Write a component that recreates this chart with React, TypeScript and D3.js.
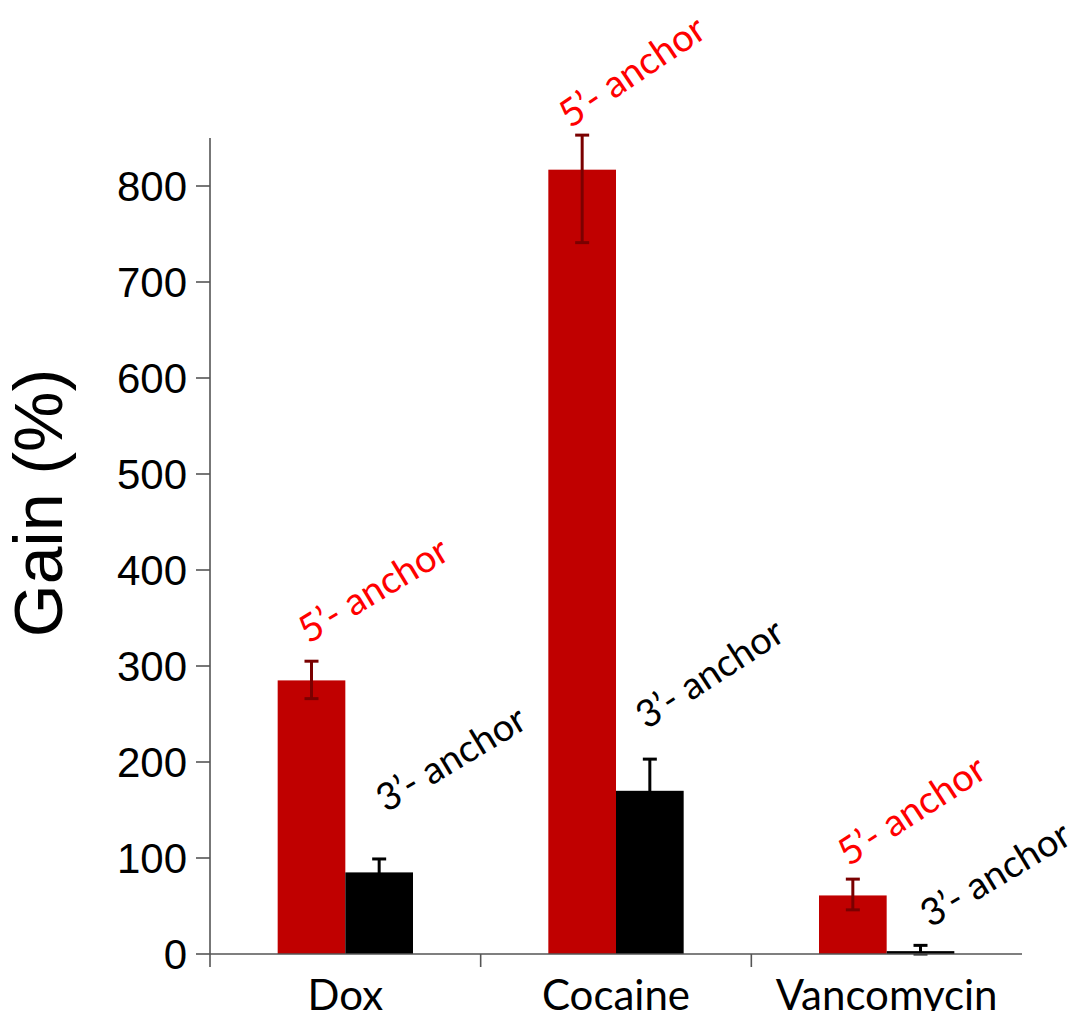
import * as d3 from 'd3';
import React, { useRef, useEffect } from 'react';

// values
const categories = ['Dox', 'Cocaine', 'Vancomycin'];
const seriesNames = ['5’- anchor', '3’- anchor'];
const gain5 = [285, 817, 61];
const err5Up = [20, 36, 17];
const err5Down = [19, 76, 15];
const gain3 = [85, 170, 3];
const err3Up = [14, 33, 6];
const err3Down = [14, 33, 3];
const yTicks = [0, 100, 200, 300, 400, 500, 600, 700, 800];

const W = 1077;
const H = 1019;

function GainChart() {
  const ref = useRef<SVGSVGElement>(null);

  useEffect(() => {
    const svg = d3.select(ref.current);
    svg.selectAll('*').remove();

    const left = 210, right = 1022, top = 138, base = 954;

    const x = d3.scaleBand().domain(categories).range([left, right]).padding(0);
    const bw = x.bandwidth();
    const x1 = d3.scaleBand().domain(seriesNames).range([bw * 0.25, bw * 0.75]).padding(0);
    const y = d3.scaleLinear().domain([0, 850]).range([base, top]);

    const fills = ['#c00000', '#000000'];
    const errColors = ['#7a0000', '#000000'];
    const textColors = ['#ff0000', '#000000'];

    const rows = categories.flatMap((c, i) => [
      { cat: c, s: 0, v: gain5[i], up: err5Up[i], down: err5Down[i] },
      { cat: c, s: 1, v: gain3[i], up: err3Up[i], down: err3Down[i] },
    ]);

    // bars
    svg.append('g').selectAll('rect').data(rows).enter().append('rect')
      .attr('x', d => x(d.cat)! + x1(seriesNames[d.s])!)
      .attr('y', d => y(d.v))
      .attr('width', x1.bandwidth())
      .attr('height', d => base - y(d.v))
      .attr('fill', d => fills[d.s]);

    // error bars
    const eg = svg.append('g');
    rows.forEach(d => {
      const cx = x(d.cat)! + x1(seriesNames[d.s])! + x1.bandwidth() / 2;
      const hi = y(d.v + d.up), lo = y(Math.max(0, d.v - d.down));
      const col = errColors[d.s];
      eg.append('line').attr('x1', cx).attr('x2', cx).attr('y1', hi).attr('y2', lo)
        .attr('stroke', col).attr('stroke-width', 3);
      [hi, lo].forEach(yy => eg.append('line').attr('x1', cx - 7).attr('x2', cx + 7)
        .attr('y1', yy).attr('y2', yy).attr('stroke', col).attr('stroke-width', 3));
    });

    // y axis
    const axisCol = '#555';
    svg.append('line').attr('x1', left).attr('x2', left).attr('y1', top).attr('y2', base + 13)
      .attr('stroke', axisCol).attr('stroke-width', 1.6);
    svg.append('g').selectAll('line').data(yTicks).enter().append('line')
      .attr('x1', left - 14).attr('x2', left).attr('y1', d => y(d)).attr('y2', d => y(d))
      .attr('stroke', axisCol).attr('stroke-width', 1.6);
    svg.append('g').selectAll('text').data(yTicks).enter().append('text')
      .attr('x', left - 23).attr('y', d => y(d)).attr('dy', '0.36em')
      .attr('text-anchor', 'end')
      .style('font-family', '"Liberation Sans", Arial, sans-serif').style('font-size', '42px')
      .text(d => d);

    // x axis
    svg.append('line').attr('x1', left).attr('x2', right).attr('y1', base).attr('y2', base)
      .attr('stroke', axisCol).attr('stroke-width', 1.6);
    const bounds = categories.slice(1).map(c => x(c)!);
    svg.append('g').selectAll('line').data(bounds).enter().append('line')
      .attr('x1', d => d).attr('x2', d => d).attr('y1', base).attr('y2', base + 13)
      .attr('stroke', axisCol).attr('stroke-width', 1.6);
    svg.append('g').selectAll('text').data(categories).enter().append('text')
      .attr('x', d => x(d)! + bw / 2).attr('y', 1010)
      .attr('text-anchor', 'middle')
      .style('font-family', 'Lato, "Open Sans", sans-serif').style('font-size', '42px')
      .text(d => d);

    // y title
    svg.append('text')
      .attr('transform', `translate(62, 503) rotate(-90)`)
      .attr('text-anchor', 'middle')
      .style('font-family', '"Liberation Sans", Arial, sans-serif').style('font-size', '68px')
      .text('Gain (%)');

    // anchor annotations above each bar
    const nudge = [
      [[-3, -17], [7, -46]],
      [[-12, -6], [-3, -29]],
      [[-4, -12], [10, -17]],
    ];
    const angle = [[-31, -31], [-34, -33], [-33, -31]];
    svg.append('g').selectAll('text').data(rows).enter().append('text')
      .attr('transform', (d, i) => {
        const ci = Math.floor(i / 2);
        const cx = x(d.cat)! + x1(seriesNames[d.s])! + x1.bandwidth() / 2 + nudge[ci][d.s][0];
        const cy = y(d.v + d.up) + nudge[ci][d.s][1];
        return `translate(${cx}, ${cy}) rotate(${angle[ci][d.s]})`;
      })
      .attr('fill', d => textColors[d.s])
      .style('font-family', 'Lato, "Open Sans", sans-serif').style('font-size', '38px')
      .text(d => seriesNames[d.s]);
  }, []);

  return <svg ref={ref} width={W} height={H} style={{ display: 'block' }} />;
}

export default function App() {
  return (
    <div style={{ margin: -8 }}>
      <GainChart />
    </div>
  );
}
